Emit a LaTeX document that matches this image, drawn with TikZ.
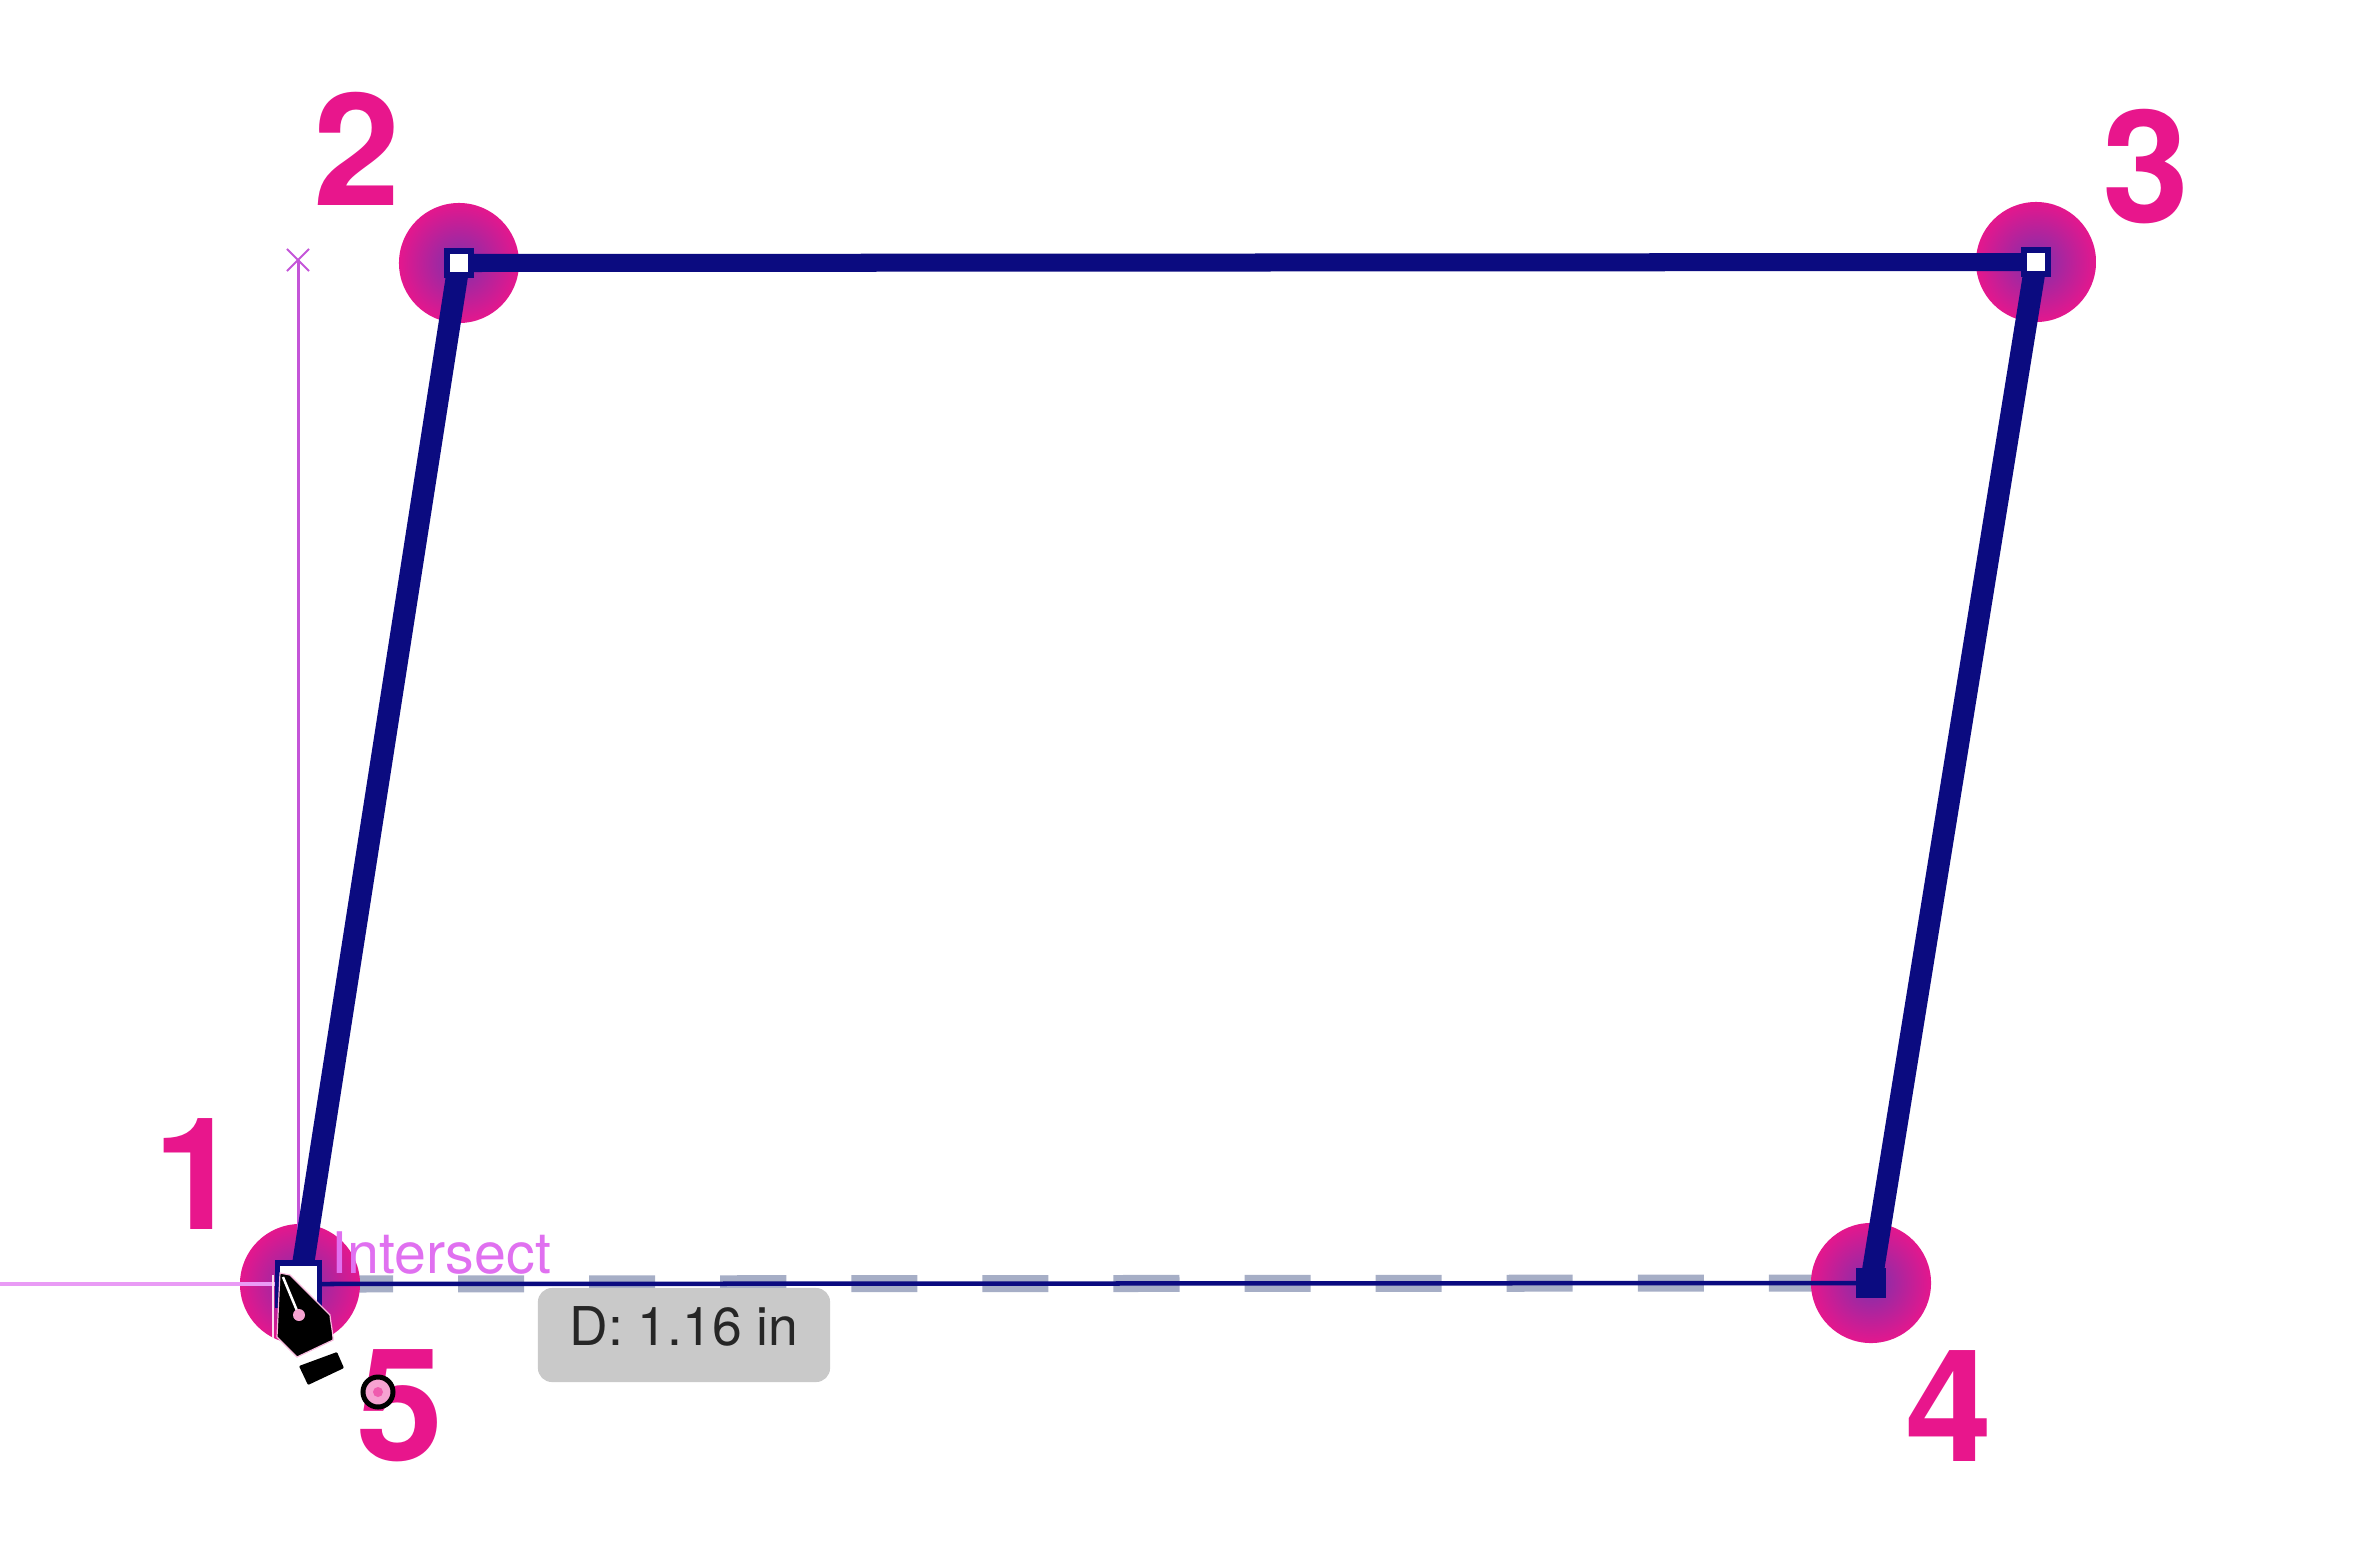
\documentclass[tikz,border=0pt]{standalone}
\usepackage{fontspec}
\usepackage{xcolor}
\usepackage{tikz}
\usetikzlibrary{shapes.misc}
\setmainfont{TeX Gyre Heros}
\definecolor{pathnavy}{HTML}{0B0B80}
\definecolor{hotpink}{HTML}{E8168C}
\definecolor{hotpurple}{HTML}{7E30AC}
\definecolor{guidepurple}{HTML}{C455D8}
\definecolor{guidelabel}{HTML}{E070F0}
\definecolor{previewgray}{HTML}{A6AEC6}
\definecolor{tipgray}{HTML}{C9C9C9}
\pgfdeclareradialshading{hotglow}{\pgfpoint{0bp}{0bp}}{color(0bp)=(hotpurple); color(26bp)=(hotpink); color(50bp)=(hotpink)}
\tikzset{
    hotspot/.style={circle, minimum size=1.2cm, inner sep=0pt, shading=hotglow},
    handle/.style={rectangle, minimum size=0.24cm, inner sep=0pt, draw=pathnavy, line width=0.055cm, fill=white},
    number/.style={text=hotpink, inner sep=0pt, font=\fontsize{44.5}{46}\selectfont\bfseries},
    guide/.style={guidepurple, line width=0.03cm},
    segment/.style={pathnavy, line width=0.18cm, line cap=butt}
}
\begin{document}
\begin{tikzpicture}[x=0.01cm, y=-0.01cm]
            \useasboundingbox (0,0) rectangle (2378,1566);
            \coordinate (left) at (0,1284);
            \coordinate (p1) at (300,1284);
            \coordinate (p2) at (459,263);
            \coordinate (p3) at (2036,262);
            \coordinate (p4) at (1871,1283);
            % preview of the last segment
            \draw[previewgray, line width=0.17cm, dash pattern=on 0.66cm off 0.65cm] (327,1284)-- (p4);
            \foreach \i in {1,2,3,4}
                \node[hotspot] (spot\i) at (p\i) {};
            \node[guidepurple, draw, cross out, minimum size=0.2cm, inner sep=0pt, line width=0.02cm] (mark) at (298,260) {};
            \draw[guide] (mark.center)-- (mark.center |- p1);
            \draw[guidelabel!70, line width=0.04cm] (left)-- (p1);
            \draw[segment, line width=0.22cm] (p1)-- (p2);
            \draw[segment] (p2)-- (p3);
            \draw[segment, line width=0.22cm] (p3)-- (p4);
            \draw[pathnavy, line width=0.045cm] (p1)-- (p4);
            \node[handle] (h2) at (p2) {};
            \node[handle] (h3) at (p3) {};
            \node[handle, fill=pathnavy] (h4) at (p4) {};
            \node[handle, minimum size=0.42cm] (h1) at (298.5,1284) {};
            \node[anchor=base west, inner sep=0pt, text=guidelabel, font=\fontsize{16.3}{17}\selectfont] (label) at (331,1273) {Intersect};
            \node[rectangle, rounded corners=0.14cm, fill=tipgray, minimum width=2.92cm, minimum height=0.94cm, inner sep=0pt] (tip) at (684,1335) {};
            \node[anchor=base, inner sep=0pt, text=black!85, font=\fontsize{15.2}{16}\selectfont] (tiptext) at (tip.center |- 0,1345) {D: 1.16 in};
            \node[number] (n1) at (197,1174) {1};
            \node[number] (n2) at (357,149) {2};
            \node[number] (n3) at (2146,167) {3};
            \node[number] (n4) at (1949,1406) {4};
            \node[number] (n5) at (400,1406) {5};
            % pen cursor
            \draw[white!85!hotpink, line width=0.02cm] (273,1275)-- (273,1338);
            \fill[black, draw=white!70!hotpink, line width=0.012cm] (280,1273)-- (290,1275)-- (330,1315) .. controls (331,1325) and (333,1332) .. (333,1340)-- (297,1357)-- (277,1337)-- cycle;
            \draw[white, line width=0.025cm] (283,1277)-- (298,1313);
            \fill[hotpink!40] (299,1315) circle (6);
            \fill[black, rounded corners=0.01cm] (299,1366)-- (337,1352)-- (344,1368)-- (308,1385)-- cycle;
            \draw[black, fill=hotpink!40, line width=0.05cm] (378,1392) circle (15);
            \fill[hotpink!70] (378,1392) circle (5);
        \end{tikzpicture}
\end{document}
